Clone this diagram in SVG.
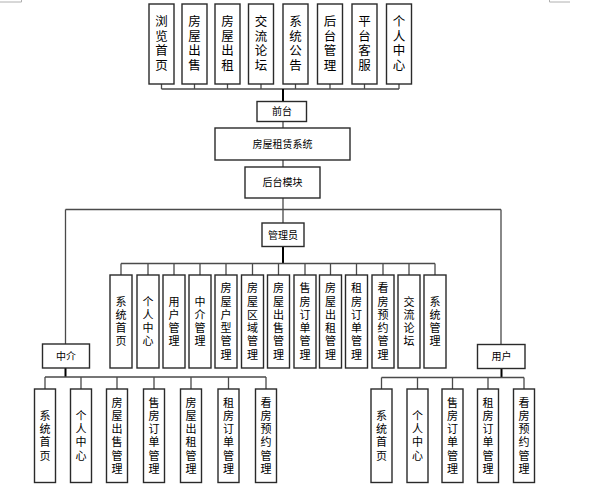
<svg xmlns="http://www.w3.org/2000/svg" width="597" height="490" viewBox="0 0 597 490">
<style>
.b{fill:#fff;stroke:#2a2a2a;stroke-width:1.4}
.c{fill:none;stroke:#4a4a4a;stroke-width:1.3}
.k{fill:none;stroke:#000;stroke-width:2}
.m{fill:none;stroke:#b0b0b0;stroke-width:1}
text{font-family:"Liberation Sans","Noto Sans CJK SC",sans-serif;fill:#000;text-anchor:middle;dominant-baseline:central}
.t{font-size:12.5px}
.v{font-size:11px}
.h{font-size:10px}
</style>
<rect width="597" height="490" fill="#fff"/>
<g id="marks">
<path class="m" d="M0 2H21.5V0M570 2H549.5V0"/>
</g>
<g id="connectors">
<path class="c" d="M161.5 89H399M161.5 84V89M194.5 84V89M227.5 84V89M261 84V89M295.5 84V89M330 84V89M364.5 84V89M399 84V89"/>
<path class="k" d="M283 89V101.5"/>
<path class="c" d="M283 121.5V128M283 160V167M283 198V223M65.5 209.5H501M65.5 209.5V344M501 209.5V344.5"/>
<path class="k" d="M283 246.5V263.5"/>
<path class="c" d="M121 263.5H435M121 263.5V275M148 263.5V275M174 263.5V275M200 263.5V275M226 263.5V275M252.5 263.5V275M278.5 263.5V275M305 263.5V275M330.5 263.5V275M356.5 263.5V275M383 263.5V275M409 263.5V275M435 263.5V275"/>
<path class="k" d="M65.5 368V377"/>
<path class="c" d="M45 377H266M45 377V389M81 377V389M117 377V389M154 377V389M191 377V389M228.5 377V389M266 377V389"/>
<path class="k" d="M501.5 368.5V377.5"/>
<path class="c" d="M381.5 377.5H524M381.5 377.5V389M417.5 377.5V389M452.5 377.5V389M488 377.5V389M524 377.5V389"/>
</g>
<g id="top-row">
<g id="n-liulan"><rect class="b" x="149" y="4" width="25" height="80"/><text class="t"><tspan x="161.5" y="22">浏</tspan><tspan x="161.5" y="36.5">览</tspan><tspan x="161.5" y="51">首</tspan><tspan x="161.5" y="65.5">页</tspan></text></g>
<g id="n-fwcs"><rect class="b" x="182" y="4" width="25" height="80"/><text class="t"><tspan x="194.5" y="22">房</tspan><tspan x="194.5" y="36.5">屋</tspan><tspan x="194.5" y="51">出</tspan><tspan x="194.5" y="65.5">售</tspan></text></g>
<g id="n-fwcz"><rect class="b" x="215" y="4" width="25" height="80"/><text class="t"><tspan x="227.5" y="22">房</tspan><tspan x="227.5" y="36.5">屋</tspan><tspan x="227.5" y="51">出</tspan><tspan x="227.5" y="65.5">租</tspan></text></g>
<g id="n-jllt"><rect class="b" x="248.5" y="4" width="25" height="80"/><text class="t"><tspan x="261" y="22">交</tspan><tspan x="261" y="36.5">流</tspan><tspan x="261" y="51">论</tspan><tspan x="261" y="65.5">坛</tspan></text></g>
<g id="n-xtgg"><rect class="b" x="283" y="4" width="25" height="80"/><text class="t"><tspan x="295.5" y="22">系</tspan><tspan x="295.5" y="36.5">统</tspan><tspan x="295.5" y="51">公</tspan><tspan x="295.5" y="65.5">告</tspan></text></g>
<g id="n-htgl"><rect class="b" x="317.5" y="4" width="25" height="80"/><text class="t"><tspan x="330" y="22">后</tspan><tspan x="330" y="36.5">台</tspan><tspan x="330" y="51">管</tspan><tspan x="330" y="65.5">理</tspan></text></g>
<g id="n-ptkf"><rect class="b" x="352" y="4" width="25" height="80"/><text class="t"><tspan x="364.5" y="22">平</tspan><tspan x="364.5" y="36.5">台</tspan><tspan x="364.5" y="51">客</tspan><tspan x="364.5" y="65.5">服</tspan></text></g>
<g id="n-grzx"><rect class="b" x="386.5" y="4" width="25" height="80"/><text class="t"><tspan x="399" y="22">个</tspan><tspan x="399" y="36.5">人</tspan><tspan x="399" y="51">中</tspan><tspan x="399" y="65.5">心</tspan></text></g>
</g>
<g id="n-qiantai"><rect class="b" x="257" y="101.5" width="49.5" height="20"/><text class="h" x="282" y="111.5">前台</text></g>
<g id="n-system"><rect class="b" x="215" y="128" width="135" height="32"/><text class="h" x="282.5" y="144">房屋租赁系统</text></g>
<g id="n-houtai"><rect class="b" x="245" y="167" width="75" height="31"/><text class="h" x="282.5" y="182.5">后台模块</text></g>
<g id="n-admin"><rect class="b" x="262" y="223" width="42" height="23.5"/><text class="h" x="283" y="235">管理员</text></g>
<g id="admin-row">
<g><rect class="b" x="110" y="275" width="22" height="93"/><text class="v"><tspan x="121" y="301.5">系</tspan><tspan x="121" y="314.8">统</tspan><tspan x="121" y="328.1">首</tspan><tspan x="121" y="341.4">页</tspan></text></g>
<g><rect class="b" x="137" y="275" width="22" height="93"/><text class="v"><tspan x="148" y="301.5">个</tspan><tspan x="148" y="314.8">人</tspan><tspan x="148" y="328.1">中</tspan><tspan x="148" y="341.4">心</tspan></text></g>
<g><rect class="b" x="163" y="275" width="22" height="93"/><text class="v"><tspan x="174" y="301.5">用</tspan><tspan x="174" y="314.8">户</tspan><tspan x="174" y="328.1">管</tspan><tspan x="174" y="341.4">理</tspan></text></g>
<g><rect class="b" x="189" y="275" width="22" height="93"/><text class="v"><tspan x="200" y="301.5">中</tspan><tspan x="200" y="314.8">介</tspan><tspan x="200" y="328.1">管</tspan><tspan x="200" y="341.4">理</tspan></text></g>
<g><rect class="b" x="215" y="275" width="22" height="93"/><text class="v"><tspan x="226" y="288.2">房</tspan><tspan x="226" y="301.5">屋</tspan><tspan x="226" y="314.8">户</tspan><tspan x="226" y="328.1">型</tspan><tspan x="226" y="341.4">管</tspan><tspan x="226" y="354.7">理</tspan></text></g>
<g><rect class="b" x="241.5" y="275" width="22" height="93"/><text class="v"><tspan x="252.5" y="288.2">房</tspan><tspan x="252.5" y="301.5">屋</tspan><tspan x="252.5" y="314.8">区</tspan><tspan x="252.5" y="328.1">域</tspan><tspan x="252.5" y="341.4">管</tspan><tspan x="252.5" y="354.7">理</tspan></text></g>
<g><rect class="b" x="267.5" y="275" width="22" height="93"/><text class="v"><tspan x="278.5" y="288.2">房</tspan><tspan x="278.5" y="301.5">屋</tspan><tspan x="278.5" y="314.8">出</tspan><tspan x="278.5" y="328.1">售</tspan><tspan x="278.5" y="341.4">管</tspan><tspan x="278.5" y="354.7">理</tspan></text></g>
<g><rect class="b" x="294" y="275" width="22" height="93"/><text class="v"><tspan x="305" y="288.2">售</tspan><tspan x="305" y="301.5">房</tspan><tspan x="305" y="314.8">订</tspan><tspan x="305" y="328.1">单</tspan><tspan x="305" y="341.4">管</tspan><tspan x="305" y="354.7">理</tspan></text></g>
<g><rect class="b" x="319.5" y="275" width="22" height="93"/><text class="v"><tspan x="330.5" y="288.2">房</tspan><tspan x="330.5" y="301.5">屋</tspan><tspan x="330.5" y="314.8">出</tspan><tspan x="330.5" y="328.1">租</tspan><tspan x="330.5" y="341.4">管</tspan><tspan x="330.5" y="354.7">理</tspan></text></g>
<g><rect class="b" x="345.5" y="275" width="22" height="93"/><text class="v"><tspan x="356.5" y="288.2">租</tspan><tspan x="356.5" y="301.5">房</tspan><tspan x="356.5" y="314.8">订</tspan><tspan x="356.5" y="328.1">单</tspan><tspan x="356.5" y="341.4">管</tspan><tspan x="356.5" y="354.7">理</tspan></text></g>
<g><rect class="b" x="372" y="275" width="22" height="93"/><text class="v"><tspan x="383" y="288.2">看</tspan><tspan x="383" y="301.5">房</tspan><tspan x="383" y="314.8">预</tspan><tspan x="383" y="328.1">约</tspan><tspan x="383" y="341.4">管</tspan><tspan x="383" y="354.7">理</tspan></text></g>
<g><rect class="b" x="398" y="275" width="22" height="93"/><text class="v"><tspan x="409" y="301.5">交</tspan><tspan x="409" y="314.8">流</tspan><tspan x="409" y="328.1">论</tspan><tspan x="409" y="341.4">坛</tspan></text></g>
<g><rect class="b" x="424" y="275" width="22" height="93"/><text class="v"><tspan x="435" y="301.5">系</tspan><tspan x="435" y="314.8">统</tspan><tspan x="435" y="328.1">管</tspan><tspan x="435" y="341.4">理</tspan></text></g>
</g>
<g id="n-agent"><rect class="b" x="42.5" y="344" width="47" height="24"/><text class="h" x="66" y="356">中介</text></g>
<g id="n-user"><rect class="b" x="477.5" y="344.5" width="47.5" height="24"/><text class="h" x="501.5" y="356.5">用户</text></g>
<g id="agent-row">
<g><rect class="b" x="34.5" y="389" width="21" height="93.5"/><text class="v"><tspan x="45" y="415.8">系</tspan><tspan x="45" y="429.1">统</tspan><tspan x="45" y="442.4">首</tspan><tspan x="45" y="455.7">页</tspan></text></g>
<g><rect class="b" x="70.5" y="389" width="21" height="93.5"/><text class="v"><tspan x="81" y="415.8">个</tspan><tspan x="81" y="429.1">人</tspan><tspan x="81" y="442.4">中</tspan><tspan x="81" y="455.7">心</tspan></text></g>
<g><rect class="b" x="106.5" y="389" width="21" height="93.5"/><text class="v"><tspan x="117" y="402.5">房</tspan><tspan x="117" y="415.8">屋</tspan><tspan x="117" y="429.1">出</tspan><tspan x="117" y="442.4">售</tspan><tspan x="117" y="455.7">管</tspan><tspan x="117" y="469">理</tspan></text></g>
<g><rect class="b" x="143.5" y="389" width="21" height="93.5"/><text class="v"><tspan x="154" y="402.5">售</tspan><tspan x="154" y="415.8">房</tspan><tspan x="154" y="429.1">订</tspan><tspan x="154" y="442.4">单</tspan><tspan x="154" y="455.7">管</tspan><tspan x="154" y="469">理</tspan></text></g>
<g><rect class="b" x="180.5" y="389" width="21" height="93.5"/><text class="v"><tspan x="191" y="402.5">房</tspan><tspan x="191" y="415.8">屋</tspan><tspan x="191" y="429.1">出</tspan><tspan x="191" y="442.4">租</tspan><tspan x="191" y="455.7">管</tspan><tspan x="191" y="469">理</tspan></text></g>
<g><rect class="b" x="218" y="389" width="21" height="93.5"/><text class="v"><tspan x="228.5" y="402.5">租</tspan><tspan x="228.5" y="415.8">房</tspan><tspan x="228.5" y="429.1">订</tspan><tspan x="228.5" y="442.4">单</tspan><tspan x="228.5" y="455.7">管</tspan><tspan x="228.5" y="469">理</tspan></text></g>
<g><rect class="b" x="255.5" y="389" width="21" height="93.5"/><text class="v"><tspan x="266" y="402.5">看</tspan><tspan x="266" y="415.8">房</tspan><tspan x="266" y="429.1">预</tspan><tspan x="266" y="442.4">约</tspan><tspan x="266" y="455.7">管</tspan><tspan x="266" y="469">理</tspan></text></g>
</g>
<g id="user-row">
<g><rect class="b" x="371" y="389" width="21" height="93.5"/><text class="v"><tspan x="381.5" y="415.8">系</tspan><tspan x="381.5" y="429.1">统</tspan><tspan x="381.5" y="442.4">首</tspan><tspan x="381.5" y="455.7">页</tspan></text></g>
<g><rect class="b" x="407" y="389" width="21" height="93.5"/><text class="v"><tspan x="417.5" y="415.8">个</tspan><tspan x="417.5" y="429.1">人</tspan><tspan x="417.5" y="442.4">中</tspan><tspan x="417.5" y="455.7">心</tspan></text></g>
<g><rect class="b" x="442" y="389" width="21" height="93.5"/><text class="v"><tspan x="452.5" y="402.5">售</tspan><tspan x="452.5" y="415.8">房</tspan><tspan x="452.5" y="429.1">订</tspan><tspan x="452.5" y="442.4">单</tspan><tspan x="452.5" y="455.7">管</tspan><tspan x="452.5" y="469">理</tspan></text></g>
<g><rect class="b" x="477.5" y="389" width="21" height="93.5"/><text class="v"><tspan x="488" y="402.5">租</tspan><tspan x="488" y="415.8">房</tspan><tspan x="488" y="429.1">订</tspan><tspan x="488" y="442.4">单</tspan><tspan x="488" y="455.7">管</tspan><tspan x="488" y="469">理</tspan></text></g>
<g><rect class="b" x="513.5" y="389" width="21" height="93.5"/><text class="v"><tspan x="524" y="402.5">看</tspan><tspan x="524" y="415.8">房</tspan><tspan x="524" y="429.1">预</tspan><tspan x="524" y="442.4">约</tspan><tspan x="524" y="455.7">管</tspan><tspan x="524" y="469">理</tspan></text></g>
</g>
</svg>
